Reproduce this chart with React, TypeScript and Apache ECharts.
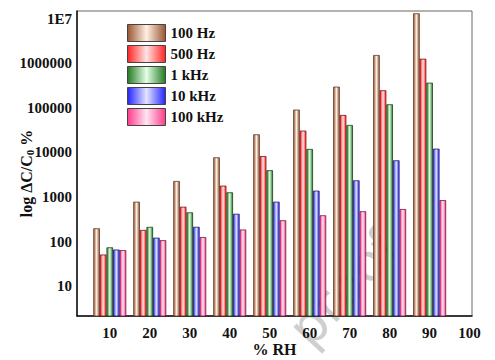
import React, { useEffect, useRef } from "react";
import * as echarts from "echarts";

const humidity = [10, 20, 30, 40, 50, 60, 70, 80, 90];
const xTickLabels = [10, 20, 30, 40, 50, 60, 70, 80, 90, 100];
const seriesNames = ["100 Hz", "500 Hz", "1 kHz", "10 kHz", "100 kHz"];
const hz100 = [198, 785, 2290, 7800, 25600, 92000, 302000, 1550000, 13400000];
const hz500 = [51, 182, 605, 1800, 8300, 31000, 69700, 250000, 1280000];
const khz1 = [74, 213, 452, 1275, 4000, 12000, 41500, 121000, 370000];
const khz10 = [66, 122, 214, 420, 785, 1390, 2370, 6680, 12200];
const khz100 = [64, 107, 126, 186, 300, 388, 478, 537, 850];
const yTickLabels = ["10", "100", "1000", "10000", "100000", "1000000", "1E7"];

const edgeColors = ["#9a5532", "#ff2424", "#237a23", "#2424ff", "#ff3a8a"];
const midColors = ["#fff0e4", "#ffe4e4", "#e4ffe4", "#e4e4ff", "#ffe6f2"];
const borderColors = ["#5a3b2c", "#7a1010", "#1d451d", "#1d1d66", "#6e1a3c"];

const FONT = "Liberation Serif";

export default function App() {
  const ref = useRef<HTMLDivElement>(null);
  useEffect(() => {
    document.body.style.margin = "0";
    if (!ref.current) return;
    const chart = echarts.init(ref.current, undefined, { renderer: "svg" });
    const allData = [hz100, hz500, khz1, khz10, khz100];
    const series = allData.map((vals, i) => ({
      name: seriesNames[i],
      type: "bar",
      barWidth: 6.6,
      barGap: "0%",
      z: 3,
      data: humidity.map((h, j) => [h, vals[j]]),
      itemStyle: {
        color: {
          type: "linear",
          x: 0,
          y: 0,
          x2: 1,
          y2: 0,
          colorStops: [
            { offset: 0, color: edgeColors[i] },
            { offset: 0.5, color: midColors[i] },
            { offset: 1, color: edgeColors[i] },
          ],
        },
        borderColor: borderColors[i],
        borderWidth: 0.8,
      },
    }));
    chart.setOption({
      animation: false,
      backgroundColor: "#ffffff",
      grid: {
        left: 77,
        right: 23,
        top: 11,
        bottom: 44,
        containLabel: false,
        outerBoundsMode: "none",
        show: true,
        borderColor: "#666",
        borderWidth: 1,
        backgroundColor: "transparent",
      },
      legend: {
        orient: "vertical",
        left: 122,
        top: 19,
        itemWidth: 38,
        itemHeight: 17,
        itemGap: 3,
        icon: "rect",
        data: seriesNames,
        itemStyle: { borderColor: "#444", borderWidth: 1 },
        textStyle: {
          fontFamily: FONT,
          fontWeight: "bold",
          fontSize: 15,
          color: "#111",
        },
      },
      graphic: [
        {
          type: "text",
          x: 344,
          y: 288,
          rotation: (47 * Math.PI) / 180,
          z: 0,
          zlevel: 0,
          silent: true,
          style: {
            text: "proof",
            fontFamily: "DejaVu Sans",
            fontSize: 52,
            fill: "rgba(160,160,160,0.5)",
            align: "center",
            verticalAlign: "middle",
          },
        },
      ],
      xAxis: {
        type: "value",
        min: 1.8,
        max: 100.6,
        splitNumber: 10,
        name: "% RH",
        nameLocation: "middle",
        nameGap: 25,
        nameMoveOverlap: false,
        nameTextStyle: {
          fontFamily: FONT,
          fontWeight: "bold",
          fontSize: 16,
          color: "#111",
        },
        axisLine: { show: true, onZero: false, lineStyle: { color: "#111", width: 1.5 } },
        axisTick: { show: false },
        splitLine: { show: false },
        axisLabel: {
          margin: 9,
          showMinLabel: false,
          showMaxLabel: false,
          fontFamily: FONT,
          fontWeight: "bold",
          fontSize: 15,
          color: "#111",
          formatter: (v: number) =>
            xTickLabels.indexOf(Math.round(v)) >= 0 && Math.abs(v - Math.round(v)) < 1e-6
              ? String(Math.round(v))
              : "",
        },
      },
      yAxis: {
        type: "log",
        logBase: 10,
        min: 2.12,
        max: 1.51e7,
        name: "log ΔC/C{sub|0} %",
        nameLocation: "middle",
        nameGap: 42,
        nameMoveOverlap: false,
        nameTextStyle: {
          fontFamily: FONT,
          fontWeight: "bold",
          fontSize: 16,
          color: "#111",
          padding: [0, 20, 0, 0],
          rich: {
            sub: {
              fontFamily: FONT,
              fontWeight: "bold",
              fontSize: 11,
              color: "#111",
              verticalAlign: "bottom",
              padding: [6, 0, 0, 0],
            },
          },
        },
        axisLine: { show: true, onZero: false, lineStyle: { color: "#111", width: 1.5 } },
        axisTick: { show: false },
        splitLine: { show: false },
        axisLabel: {
          margin: 5,
          showMinLabel: false,
          showMaxLabel: false,
          fontFamily: FONT,
          fontWeight: "bold",
          fontSize: 15,
          color: "#111",
          formatter: (v: number) => {
            const l = Math.log10(v);
            const r = Math.round(l);
            if (Math.abs(l - r) > 1e-6 || r < 1 || r > 7) return "";
            return yTickLabels[r - 1];
          },
        },
      },
      series,
    });
    return () => chart.dispose();
  }, []);
  return <div ref={ref} style={{ width: 495, height: 360 }} />;
}
